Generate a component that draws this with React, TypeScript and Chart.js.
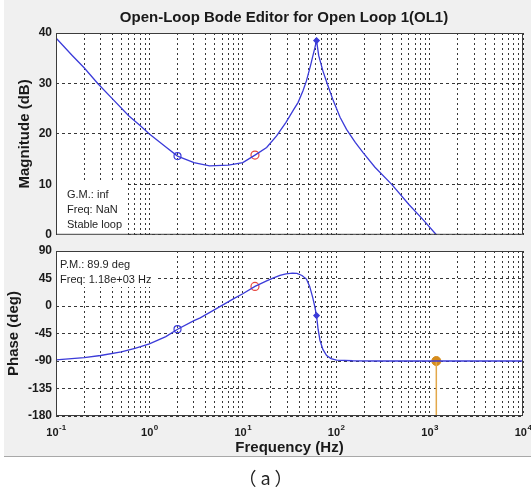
import React, { useEffect, useRef } from "react";
import { Chart, registerables } from "chart.js";
Chart.register(...registerables);

const FONT = "'Liberation Sans', Arial, Helvetica, sans-serif";

// ---- data ----
const MAG_FREQ = [0.1, 0.15, 0.2, 0.28, 0.4, 0.6, 0.8, 1, 1.5, 2, 3, 4.4, 7, 10, 13.5, 18, 23, 29, 35, 39, 44, 48, 53, 56, 59, 61.6, 65, 72, 80, 93, 110, 129, 160, 194, 260, 393, 600, 850, 1180];
const MAG_DB = [39, 35.5, 33.1, 30, 27, 23.6, 21.6, 20, 17.4, 15.6, 14.3, 13.65, 13.8, 14.3, 15.8, 17.3, 19.6, 22.3, 24.8, 26.2, 28.5, 30.5, 33.5, 35.3, 37, 38.5, 35.5, 32.5, 30, 26.6, 23.3, 20.9, 18.3, 16.3, 13.4, 10, 6, 3, 0];

const PHASE_FREQ = [0.1, 0.2, 0.3, 0.5, 0.7, 1, 1.5, 2, 3, 3.5, 5, 8, 10, 13.5, 18, 21, 25, 29, 34, 38, 43, 48, 52, 56, 59, 61.6, 64, 67, 72, 79, 88, 101, 150, 300, 10000];
const PHASE_DEG = [-88, -84.5, -81, -75, -69.5, -62, -50, -38, -24, -19.5, -6, 12, 20, 32, 41, 45.5, 50, 52.5, 53.8, 53.5, 50, 44, 32, 14, -1, -15.7, -38, -56, -71, -81, -86, -88.5, -89.6, -90, -90];

const MARKER_FREQ = [2, 13.5, 61.6];
const MARKER_MAG = [15.6, 15.8, 38.5];
const MARKER_PHASE = [-38, 32, -15.7];

const CROSS_FREQ = 1180;
const CROSS_PHASE = -90;
const PHASE_FLOOR = -180;

const DECADES = [0.1, 1, 10, 100, 1000, 10000];
const DECADE_EXP = ["-1", "0", "1", "2", "3", "4"];
const MINOR_MULT = [1, 2, 3, 4, 5, 6, 7, 8, 9];

const MAG_TICKS = { min: 0, max: 40, step: 10 };
const PHASE_TICKS = { min: -180, max: 90, step: 45 };

const GM_TEXT = ["G.M.: inf", "Freq: NaN", "Stable loop"];
const PM_TEXT = ["P.M.: 89.9 deg", "Freq: 1.18e+03 Hz"];
const TITLE = "Open-Loop Bode Editor for Open Loop 1(OL1)";

const BLUE = "#3b3bd9";
const RED = "#e6463e";
const ORANGE = "#d68c1c";

const GRID_FREQS: number[] = [];
DECADES.forEach((d, i) => {
  if (i === DECADES.length - 1) GRID_FREQS.push(d);
  else MINOR_MULT.forEach((m) => GRID_FREQS.push(+(d * m).toPrecision(6)));
});

const pts = (xs: number[], ys: number[]) => xs.map((x, i) => ({ x, y: ys[i] }));

const framePlugin = {
  id: "frame",
  beforeDraw(chart: any) {
    const { ctx, chartArea: a } = chart;
    ctx.save();
    ctx.fillStyle = "#ffffff";
    ctx.fillRect(a.left, a.top, a.right - a.left, a.bottom - a.top);
    ctx.restore();
  },
  afterDraw(chart: any) {
    const { ctx, chartArea: a } = chart;
    ctx.save();
    ctx.strokeStyle = "#3c3c3c";
    ctx.lineWidth = 1;
    ctx.strokeRect(a.left + 0.5, a.top + 0.5, a.right - a.left - 1, a.bottom - a.top - 1);
    ctx.restore();
  },
};

function textBox(lines: string[], box: [number, number, number, number], x0: number, y0: number, lh: number) {
  return {
    id: "textbox",
    afterDatasetsDraw(chart: any) {
      const { ctx } = chart;
      ctx.save();
      ctx.fillStyle = "#ffffff";
      ctx.fillRect(box[0], box[1], box[2], box[3]);
      ctx.fillStyle = "#1e1e1e";
      ctx.font = `11px ${FONT}`;
      ctx.textAlign = "left";
      ctx.textBaseline = "alphabetic";
      lines.forEach((t, i) => ctx.fillText(t, x0, y0 + i * lh));
      ctx.restore();
    },
  };
}

const titlePlugin = {
  id: "titleText",
  afterDraw(chart: any) {
    const { ctx } = chart;
    ctx.save();
    ctx.fillStyle = "#1a1a1a";
    ctx.font = `bold 15px ${FONT}`;
    ctx.textAlign = "center";
    ctx.textBaseline = "alphabetic";
    ctx.fillText(TITLE, 284, 22);
    ctx.restore();
  },
};

const xLabelPlugin = {
  id: "xLabels",
  afterDraw(chart: any) {
    const { ctx } = chart;
    const sx = chart.scales.x;
    ctx.save();
    ctx.fillStyle = "#1a1a1a";
    ctx.textAlign = "left";
    ctx.textBaseline = "alphabetic";
    DECADES.forEach((v, i) => {
      const px = sx.getPixelForValue(v);
      ctx.font = `bold 11px ${FONT}`;
      const w1 = ctx.measureText("10").width;
      ctx.font = `bold 8px ${FONT}`;
      const w2 = ctx.measureText(DECADE_EXP[i]).width;
      const x0 = px - (w1 + w2) / 2;
      ctx.font = `bold 11px ${FONT}`;
      ctx.fillText("10", x0, 198);
      ctx.font = `bold 8px ${FONT}`;
      ctx.fillText(DECADE_EXP[i], x0 + w1 + 0.5, 192);
    });
    ctx.restore();
  },
};

function baseOptions(yT: { min: number; max: number; step: number }, yTitle: string, yTitlePad: number, bottom: boolean, padding: any) {
  return {
    responsive: false,
    animation: false as const,
    maintainAspectRatio: false,
    layout: { padding },
    plugins: { legend: { display: false }, tooltip: { enabled: false }, title: { display: false } },
    scales: {
      x: {
        type: "logarithmic" as const,
        min: 0.1,
        max: 10000,
        afterBuildTicks: (s: any) => {
          s.ticks = GRID_FREQS.map((v) => ({ value: v, major: false }));
        },
        afterFit: (s: any) => {
          s.height = bottom ? 41 : 0;
        },
        ticks: { display: false, autoSkip: false },
        grid: { color: "rgba(20,20,20,0.85)", lineWidth: 1, drawTicks: false },
        border: { display: false, dash: [2, 3] },
        title: bottom
          ? { display: true, text: "Frequency (Hz)", color: "#1a1a1a", font: { family: FONT, size: 15, weight: "bold" }, padding: { top: 0, bottom: 0 } }
          : { display: false },
      },
      y: {
        type: "linear" as const,
        min: yT.min,
        max: yT.max,
        afterFit: (s: any) => {
          s.width = 56;
        },
        ticks: { stepSize: yT.step, color: "#1a1a1a", padding: 4, font: { family: FONT, size: 12, weight: "bold" } },
        grid: { color: "rgba(20,20,20,0.85)", lineWidth: 1, drawTicks: false },
        border: { display: false, dash: [3, 3] },
        title: { display: true, text: yTitle, color: "#1a1a1a", font: { family: FONT, size: 15, weight: "bold" }, padding: { top: yTitlePad, bottom: 0 } },
      },
    },
  };
}

const markerSets = (ys: number[]) => [
  { data: [{ x: MARKER_FREQ[0], y: ys[0] }], showLine: false, pointStyle: "circle", pointRadius: 3.5, pointBorderWidth: 1.2, pointBorderColor: BLUE, pointBackgroundColor: "rgba(0,0,0,0)" },
  { data: [{ x: MARKER_FREQ[1], y: ys[1] }], showLine: false, pointStyle: "circle", pointRadius: 4, pointBorderWidth: 1.2, pointBorderColor: RED, pointBackgroundColor: "rgba(0,0,0,0)" },
  { data: [{ x: MARKER_FREQ[2], y: ys[2] }], showLine: false, pointStyle: "rectRot", pointRadius: 2.5, pointBorderWidth: 1.5, pointBorderColor: BLUE, pointBackgroundColor: BLUE },
];

export default function App() {
  const topRef = useRef<HTMLCanvasElement>(null);
  const botRef = useRef<HTMLCanvasElement>(null);

  useEffect(() => {
    document.body.style.margin = "0";
    const top = new Chart(topRef.current!, {
      type: "line",
      data: {
        datasets: [
          { data: pts(MAG_FREQ, MAG_DB), borderColor: BLUE, borderWidth: 1.3, pointRadius: 0, tension: 0 },
          ...markerSets(MARKER_MAG),
        ] as any,
      },
      options: baseOptions(MAG_TICKS, "Magnitude (dB)", 16, false, { top: 33, right: 8, bottom: 10, left: 0 }) as any,
      plugins: [framePlugin, textBox(GM_TEXT, [57, 182, 71, 53], 67, 198, 15), titlePlugin],
    });
    const bot = new Chart(botRef.current!, {
      type: "line",
      data: {
        datasets: [
          { data: [{ x: 0.1, y: PHASE_FLOOR }, { x: 10000, y: PHASE_FLOOR }], borderColor: "rgba(240,185,90,0.75)", borderWidth: 2, pointRadius: 0 },
          { data: pts(PHASE_FREQ, PHASE_DEG), borderColor: BLUE, borderWidth: 1.3, pointRadius: 0, tension: 0 },
          { data: [{ x: CROSS_FREQ, y: CROSS_PHASE }, { x: CROSS_FREQ, y: PHASE_FLOOR }], borderColor: "#e3a84a", borderWidth: 1.5, pointRadius: 0 },
          { data: [{ x: CROSS_FREQ, y: CROSS_PHASE }], showLine: false, pointRadius: 4.5, pointBackgroundColor: ORANGE, pointBorderColor: ORANGE },
          ...markerSets(MARKER_PHASE),
        ] as any,
      },
      options: baseOptions(PHASE_TICKS, "Phase (deg)", 5, true, { top: 13, right: 8, bottom: 0, left: 0 }) as any,
      plugins: [framePlugin, textBox(PM_TEXT, [57, 13, 100, 36], 60, 30, 15), xLabelPlugin],
    });
    return () => {
      top.destroy();
      bot.destroy();
    };
  }, []);

  return (
    <div style={{ position: "relative", width: 531, height: 489, background: "#ffffff", overflow: "hidden" }}>
      <div style={{ position: "absolute", left: 4, top: 0, width: 527, height: 456, background: "#f0f0f0", borderBottom: "1px solid #a8a8a8" }} />
      <canvas ref={topRef} width={531} height={246} style={{ position: "absolute", left: 0, top: 0 }} />
      <canvas ref={botRef} width={531} height={219} style={{ position: "absolute", left: 0, top: 238 }} />
      <div style={{ position: "absolute", left: 0, top: 465, width: 531, height: 24, lineHeight: "24px", textAlign: "center", fontSize: 18, letterSpacing: "4px", paddingLeft: 4, boxSizing: "border-box", color: "#222", fontFamily: "'Noto Sans CJK KR', 'Noto Sans', sans-serif" }}>
        （a）
      </div>
    </div>
  );
}
